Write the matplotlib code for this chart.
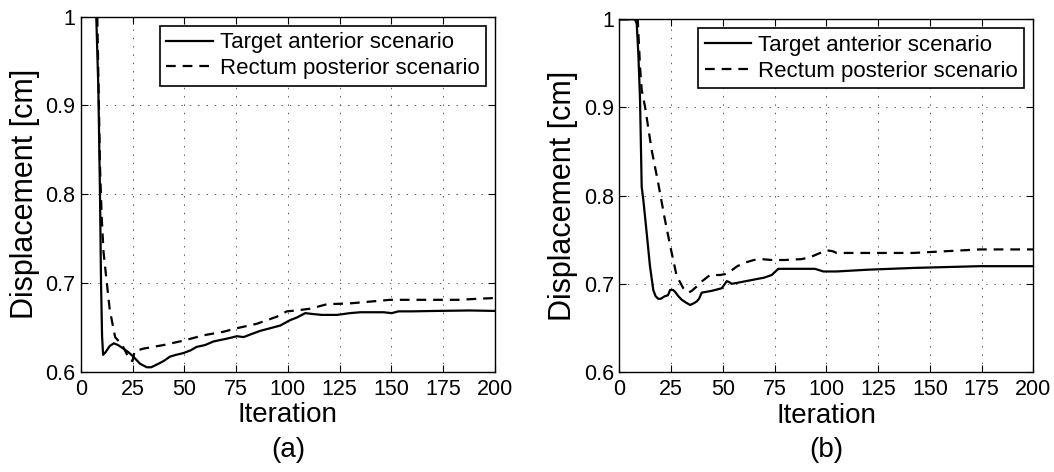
import numpy as np
import matplotlib
matplotlib.use("Agg")
import matplotlib.pyplot as plt

plt.rcParams['font.family'] = ['Liberation Sans', 'DejaVu Sans']
plt.rcParams['lines.scale_dashes'] = False

# (a) target anterior / rectum posterior
a_solid_x = [0, 7.5, 8.5, 9.3, 9.8, 10.3, 10.8, 12, 14, 16, 18, 20.6, 23, 25.4, 28.6, 31.9, 34, 36.7,
             40, 43.1, 46, 49.6, 53, 56, 60, 64, 68, 72, 75.4, 78.6, 82, 86.6, 91.5, 96.3, 101, 104.3,
             108.4, 112, 116.4, 123.7, 130, 135, 146.2, 150.2, 153.4, 160, 172, 188, 199.3, 200]
a_solid_y = [1.0, 1.0, 0.92, 0.80, 0.70, 0.64, 0.619, 0.622, 0.629, 0.632, 0.630, 0.626, 0.622, 0.617,
             0.609, 0.605, 0.605, 0.608, 0.612, 0.617, 0.619, 0.621, 0.624, 0.628, 0.630, 0.634, 0.636,
             0.638, 0.640, 0.639, 0.642, 0.646, 0.649, 0.652, 0.658, 0.661, 0.666, 0.665, 0.664, 0.664,
             0.666, 0.667, 0.667, 0.666, 0.668, 0.668, 0.6685, 0.669, 0.6685, 0.6685]
a_dash_x = [0, 8, 9.3, 10.1, 11, 12.6, 14, 16.6, 20, 23.8, 25, 26, 30.2, 39.9, 49.6, 59.2, 68.9, 75.4,
            85, 94.7, 99.5, 104, 110.8, 118.8, 130, 139.8, 149.4, 155.9, 170, 182, 194.5, 200]
a_dash_y = [1.0, 1.0, 0.831, 0.775, 0.735, 0.70, 0.67, 0.639, 0.63, 0.613, 0.612, 0.623, 0.626, 0.63,
            0.635, 0.641, 0.645, 0.649, 0.654, 0.662, 0.668, 0.669, 0.671, 0.676, 0.677, 0.679, 0.681,
            0.681, 0.681, 0.681, 0.6825, 0.683]

# (b)
b_solid_x = [0, 7.6, 8.4, 9.2, 10, 10.8, 11.6, 13.2, 14.8, 16.4, 17.5, 18.8, 20, 22, 23.5, 24.5, 26,
             26.9, 28.5, 30.1, 32, 34.2, 36, 37.4, 38.5, 39.8, 44.6, 49.5, 51.9, 53, 54.3, 56.7, 65.5,
             70, 73.6, 76.8, 85, 94.5, 98.6, 105, 120, 142, 174, 200]
b_solid_y = [1.0, 1.0, 0.995, 0.96, 0.909, 0.81, 0.795, 0.758, 0.72, 0.693, 0.686, 0.683, 0.683, 0.686,
             0.687, 0.693, 0.693, 0.691, 0.686, 0.682, 0.679, 0.676, 0.678, 0.680, 0.683, 0.690, 0.692,
             0.695, 0.703, 0.702, 0.700, 0.701, 0.705, 0.707, 0.710, 0.717, 0.717, 0.717, 0.714, 0.714,
             0.716, 0.718, 0.72, 0.72]
b_dash_x = [0, 8.9, 10, 10.8, 12.4, 15.6, 18.8, 22, 25.3, 27.7, 30.9, 33.3, 35, 37.4, 40, 43.8, 48.7,
            51, 53.5, 57, 60.7, 65, 68.8, 73.6, 80, 88, 92, 96, 100.2, 103, 105, 118, 142, 174, 200]
b_dash_y = [1.0, 1.0, 0.946, 0.92, 0.901, 0.852, 0.814, 0.773, 0.735, 0.709, 0.695, 0.69, 0.692, 0.697,
            0.703, 0.710, 0.710, 0.711, 0.714, 0.720, 0.724, 0.727, 0.728, 0.727, 0.727, 0.728, 0.730,
            0.734, 0.738, 0.737, 0.735, 0.735, 0.735, 0.739, 0.739]

labels = ["Target anterior scenario", "Rectum posterior scenario"]
xticks = [0, 25, 50, 75, 100, 125, 150, 175, 200]
yticks = [0.6, 0.7, 0.8, 0.9, 1.0]
ytick_labels = ["0.6", "0.7", "0.8", "0.9", "1"]

fig = plt.figure(figsize=(10.54, 4.72), dpi=100)
ax1 = fig.add_axes([0.0766, 0.2125, 0.393, 0.752])
ax2 = fig.add_axes([0.5876, 0.2119, 0.3928, 0.7472])

panels = [(ax1, a_solid_x, a_solid_y, a_dash_x, a_dash_y, "(a)"),
          (ax2, b_solid_x, b_solid_y, b_dash_x, b_dash_y, "(b)")]

for ax, sx, sy, dx, dy, tag in panels:
    ax.plot(sx, sy, color='black', lw=1.6, label=labels[0])
    ax.plot(dx, dy, color='black', lw=1.6, dashes=(7, 5), label=labels[1])
    ax.set_xlim(0, 200)
    ax.set_ylim(0.6, 1.0)
    ax.set_xticks(xticks)
    ax.set_yticks(yticks)
    ax.set_yticklabels(ytick_labels)
    ax.tick_params(direction='in', top=True, right=True, length=5, width=0.8,
                   labelsize=15.5)
    ax.tick_params(axis='x', pad=5)
    ax.tick_params(axis='y', pad=4)
    ax.grid(True, color='#555555', linestyle=(0, (1, 5)), linewidth=0.7)
    for s in ax.spines.values():
        s.set_linewidth(1.0)
    ax.set_xlabel("Iteration", fontsize=20, labelpad=2)
    ax.set_ylabel("Displacement [cm]", fontsize=22, labelpad=4)
    leg = ax.legend(loc='upper right', fontsize=16, fancybox=False, framealpha=1,
                    edgecolor='black', handlelength=2.1, handletextpad=0.3,
                    borderpad=0.3, labelspacing=0.22, borderaxespad=0.4)
    leg.get_frame().set_linewidth(1.2)
    pos = ax.get_position()
    fig.text((pos.x0 + pos.x1) / 2, 1 - 450 / 472, tag, fontsize=20,
             ha='center', va='center')

fig.savefig("out.png", dpi=100)
